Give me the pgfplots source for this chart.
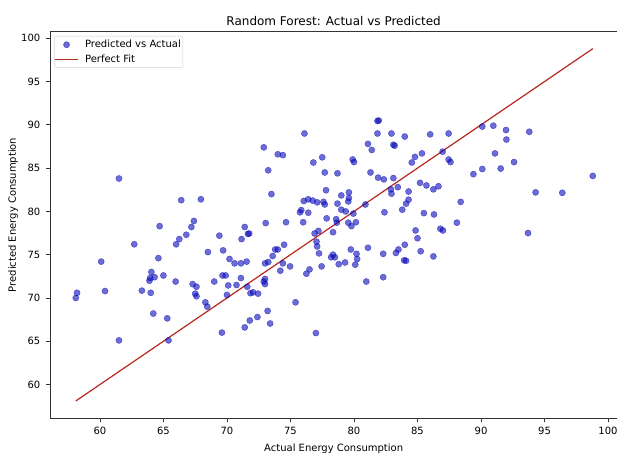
\documentclass[border=0pt]{standalone}
\usepackage{fontspec}
\setmainfont{DejaVu Sans}
\usepackage{pgfplots}
\pgfplotsset{compat=1.18}
\usepackage{pgfplotstable}
\definecolor{ptblue}{RGB}{10,10,185}
\definecolor{fitred}{RGB}{180,40,30}
\pgfplotstableread{
x y
58.1 70.0
58.2 70.6
60.1 74.2
60.4 70.8
61.5 83.8
61.5 65.1
62.7 76.2
63.3 70.85
63.9 72.0
63.95 72.3
64.05 73.0
64.0 70.6
64.2 68.2
64.3 72.4
64.6 74.6
64.7 78.3
65.0 72.6
65.3 67.65
65.4 65.1
65.96 71.9
66.0 76.2
66.25 76.8
66.4 81.3
66.8 77.3
67.2 78.2
67.4 78.9
67.3 71.6
67.6 71.3
67.5 70.5
67.6 70.2
67.95 81.4
68.3 69.5
68.45 69.0
68.5 75.3
69.0 71.9
69.4 77.2
69.65 72.6
69.9 72.6
69.6 66.0
69.7 75.5
70.0 70.35
70.1 71.45
70.2 74.5
70.6 74.0
70.75 71.5
71.1 72.3
71.1 74.0
71.15 76.8
71.4 78.2
71.65 77.4
71.75 77.45
71.55 74.2
71.6 71.3
71.85 70.55
72.05 70.65
72.45 70.5
71.4 66.6
71.8 67.4
72.4 67.8
72.9 87.4
73.05 78.65
72.9 71.9
73.0 71.6
73.0 72.2
73.0 74.0
73.25 74.15
73.25 84.75
73.2 68.5
73.4 67.05
73.5 82.0
73.6 74.85
73.8 75.6
74.0 75.6
74.5 76.15
74.2 73.15
74.4 74.0
74.0 86.6
74.4 86.5
74.65 78.75
74.97 73.65
75.4 69.5
75.75 79.9
75.85 80.15
76.05 81.2
76.0 78.75
76.1 89.0
76.25 72.8
76.5 73.3
76.4 81.4
76.4 79.85
76.75 81.25
76.8 85.65
76.9 77.45
77.2 77.75
77.05 76.5
77.1 75.95
77.25 75.15
77.45 73.65
77.0 65.95
77.1 81.05
77.6 81.1
77.7 80.8
77.5 86.25
77.7 84.5
77.8 82.45
77.85 79.2
78.35 77.6
78.65 78.7
78.6 79.1
78.35 75.0
78.2 74.7
78.5 74.7
78.8 73.9
79.3 74.1
78.7 84.4
78.7 80.9
79.0 80.2
79.35 80.0
79.95 79.75
79.0 81.85
79.6 82.2
79.6 81.55
79.55 81.15
79.55 78.7
79.8 78.3
80.15 78.75
79.75 75.6
80.2 75.1
80.25 74.5
80.1 73.85
79.9 86.0
80.0 85.7
80.9 80.8
80.97 71.9
81.1 75.8
81.1 87.8
81.4 87.1
81.3 84.5
81.85 90.45
81.95 90.5
81.85 89.0
81.9 83.9
82.35 83.7
82.4 79.9
82.3 75.1
82.3 72.4
82.95 89.0
83.1 87.7
83.2 87.6
83.1 83.85
83.45 82.8
82.9 82.55
82.95 82.05
83.3 75.2
83.5 75.6
84.0 76.15
83.95 74.35
84.1 74.3
84.0 88.65
84.3 82.3
84.3 81.35
84.1 80.9
83.8 80.2
84.55 85.65
84.8 86.3
85.35 86.7
84.85 77.8
85.0 76.9
85.25 75.4
85.2 83.3
85.7 83.0
86.25 82.55
86.65 82.9
85.5 79.8
86.3 79.65
86.0 88.9
86.25 74.8
86.8 78.0
87.0 77.8
86.98 86.9
87.45 89.0
87.45 86.0
87.6 85.7
88.1 78.7
88.4 81.1
89.4 84.3
90.1 84.9
90.1 89.8
90.97 89.9
91.1 86.7
91.55 84.95
91.97 89.4
92.0 88.3
92.6 85.7
93.7 77.5
93.8 89.2
94.3 82.2
96.4 82.15
98.8 84.1
}\scatterdata
\pgfplotstableread{
x y
58.1 58.1
98.8 98.8
}\fitdata
\begin{document}
\begin{tikzpicture}
\begin{axis}[
  at={(50pt,36.7pt)}, anchor=south west,
  scale only axis, width=567.3pt, height=386.6pt,
  xmin=56.07, xmax=100.73, ymin=56.1, ymax=100.76,
  xtick={60,65,...,100}, ytick={60,65,...,100},
  tick align=outside, major tick length=4pt,
  xtick pos=bottom, ytick pos=left,
  tick style={black!80, line width=0.8pt},
  axis line style={black!80, line width=0.8pt},
  /pgf/number format/assume math mode=true,
  ticklabel style={font=\fontsize{10}{12}\selectfont},
  yticklabel style={inner sep=0pt, xshift=-5.5pt},
  xticklabel style={inner sep=0pt, yshift=-5pt},
  every axis title shift=0pt,
  title={Random Forest: Actual vs Predicted},
  title style={at={(axis description cs:0.5,1.0173)}, anchor=base, font=\fontsize{12}{14}\selectfont},
  xlabel={Actual Energy Consumption},
  xlabel style={at={(axis description cs:0.5,-0.0846)}, anchor=base, font=\fontsize{10}{12}\selectfont},
  ylabel={Predicted Energy Consumption},
  ylabel style={at={(axis description cs:-0.0603,0.526)}, anchor=base, font=\fontsize{10}{12}\selectfont},
  legend image code/.code={\draw[mark repeat=2,mark phase=2,#1] plot coordinates {(0pt,0pt) (11.3pt,0pt) (22.6pt,0pt)};},
  legend style={at={(axis description cs:0.0079,0.9889)}, anchor=north west,
    draw=black!18, fill=white, rounded corners=2pt,
    font=\fontsize{10}{12}\selectfont, inner xsep=0pt, inner ysep=2pt,
    row sep=1.3pt, column sep=4.6pt, nodes={inner sep=2pt}},
  legend cell align=left,
]
\addplot[only marks, mark=*, mark size=3.1pt, color=ptblue, fill=ptblue, opacity=0.6]
  table[x=x, y=y] {\scatterdata};
\addlegendentry{Predicted vs Actual}
\addplot[color=fitred, line width=1.2pt] table[x=x, y=y] {\fitdata};
\addlegendentry{Perfect Fit}
\end{axis}
\pgfresetboundingbox
\path (0,0) rectangle (617pt,455pt);
\end{tikzpicture}
\end{document}
